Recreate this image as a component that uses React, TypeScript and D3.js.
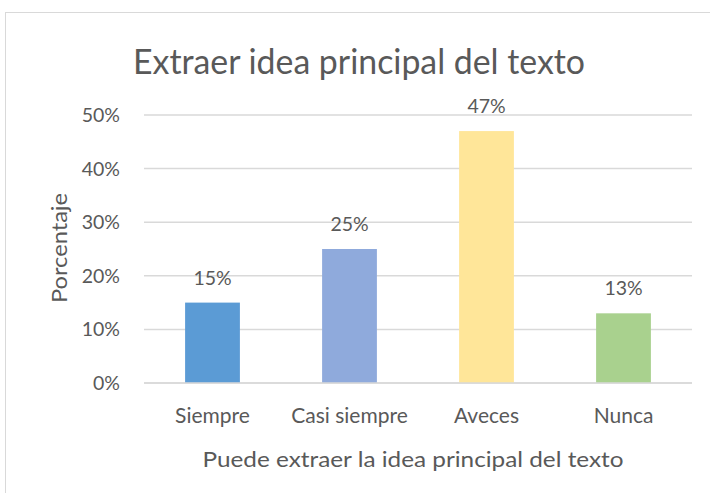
import React from "react";
import * as d3 from "d3";

const categories = ["Siempre", "Casi siempre", "Aveces", "Nunca"];
const values = [0.15, 0.25, 0.47, 0.13];
const colors = ["#5B9BD5", "#8FAADC", "#FFE699", "#A9D18E"];
const yTicks = [0, 0.1, 0.2, 0.3, 0.4, 0.5];
const title = "Extraer idea principal del texto";
const xTitle = "Puede extraer la idea principal del texto";
const yTitle = "Porcentaje";

const W = 710;
const H = 493;
const plot = { left: 144, right: 692, top: 115, bottom: 383 };
const FONT = "Lato, 'Open Sans', sans-serif";
const TXT = "#595959";

export default function App() {
  const x = d3
    .scaleBand<string>()
    .domain(categories)
    .range([plot.left, plot.right])
    .paddingInner(0.6)
    .paddingOuter(0.3);
  const y = d3.scaleLinear().domain([0, 0.5]).range([plot.bottom, plot.top]);
  const fmt = d3.format(".0%");

  return (
    <svg
      width={W}
      height={H}
      style={{ position: "absolute", left: 0, top: 0, background: "#fff" }}
      fontFamily={FONT}
    >
      <rect x={0} y={0} width={W} height={H} fill="#fff" />
      <rect x={5.5} y={12.5} width={W + 20} height={H + 20} fill="none" stroke="#D9D9D9" strokeWidth={1} />
      <text x={359} y={74} textAnchor="middle" fontSize={35} fill={TXT} textLength={452} lengthAdjust="spacingAndGlyphs">
        {title}
      </text>
      {yTicks.map((t) => (
        <g key={t}>
          <line x1={plot.left} x2={plot.right} y1={y(t)} y2={y(t)} stroke="#D9D9D9" strokeWidth={1.5} />
          <text x={120} y={y(t) + 7} textAnchor="end" fontSize={19.5} fill={TXT}>
            {fmt(t)}
          </text>
        </g>
      ))}
      {categories.map((c, i) => {
        const bx = x(c)!;
        const bw = x.bandwidth();
        const by = y(values[i]);
        return (
          <g key={c}>
            <rect x={bx} y={by} width={bw} height={y(0) - by} fill={colors[i]} />
            <text x={bx + bw / 2} y={by - 18} textAnchor="middle" fontSize={19.5} fill={TXT}>
              {fmt(values[i])}
            </text>
            <text x={bx + bw / 2} y={423} textAnchor="middle" fontSize={21} fill={TXT}>
              {c}
            </text>
          </g>
        );
      })}
      <line x1={plot.left} x2={plot.right} y1={y(0)} y2={y(0)} stroke="#D9D9D9" strokeWidth={1.5} />
      <text x={413} y={467} textAnchor="middle" fontSize={22} fill={TXT} textLength={421} lengthAdjust="spacingAndGlyphs">
        {xTitle}
      </text>
      <text
        transform={`translate(67,248) rotate(-90)`}
        textAnchor="middle"
        fontSize={22}
        fill={TXT}
        textLength={110}
        lengthAdjust="spacingAndGlyphs"
      >
        {yTitle}
      </text>
    </svg>
  );
}
